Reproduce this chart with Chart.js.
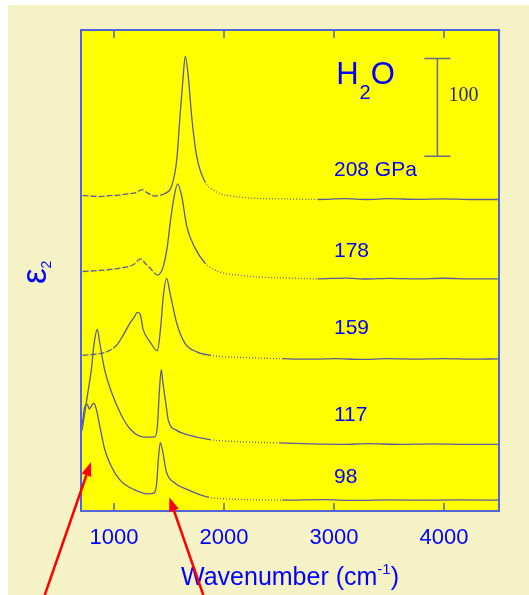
<!DOCTYPE html>
<html>
<head>
<meta charset="utf-8">
<script src="https://cdn.jsdelivr.net/npm/chart.js@4.4.0/dist/chart.umd.min.js"></script>
<style>
  html, body { margin: 0; padding: 0; background: #fff; }
  canvas { display: block; }
</style>
</head>
<body>
<canvas id="specChart" width="529" height="595"></canvas>
<script>
// x ticks (cm-1)
const xTicks = [1000, 2000, 3000, 4000];

// pressure of each spectrum, top to bottom
const pressures = ["208 GPa", "178", "159", "117", "98"];
// vertical offset of each spectrum (eps2 units)
const offsets = [318, 237, 155, 68, 11];
// where the labels sit (eps2 units, incl. offset)
const labelY = [348, 265, 187, 98, 35];

// spectra: wavenumber and eps2 above the baseline
const wn208 = [715, 790, 873, 960, 1050, 1145, 1200, 1252, 1300, 1373, 1420, 1464, 1525, 1570, 1600, 1625, 1648, 1675, 1706, 1752, 1827, 1900, 1964, 2100, 2327, 2600, 2850, 3100, 3300, 3500, 3750, 4000, 4250, 4500];
const eps208 = [4, 3.5, 3, 4, 4.5, 6, 7, 10, 7, 3.5, 4.5, 6, 14, 40, 85, 120, 146, 126, 85, 44, 18, 10, 6, 3, 1, 0.5, 0, 0.8, 0, 0.8, 0.2, 0.6, 0, 0];

const wn178 = [715, 790, 873, 960, 1055, 1175, 1243, 1290, 1327, 1397, 1448, 1485, 1515, 1548, 1579, 1615, 1661, 1736, 1827, 1900, 1994, 2150, 2327, 2600, 2850, 3100, 3300, 3500, 3750, 4000, 4250, 4500];
const eps178 = [7.5, 8, 8.6, 9.5, 11, 14.4, 20.3, 15, 11, 3.8, 12.7, 33.3, 60.8, 84.8, 97, 84.8, 53.9, 31.6, 16.2, 10, 5.9, 3.5, 1.8, 0.8, 0, 0.8, -0.2, 0.5, 0, 0.6, 0, 0];

const wn159 = [715, 812, 934, 1025, 1085, 1145, 1185, 1212, 1236, 1266, 1327, 1394, 1425, 1448, 1479, 1509, 1570, 1645, 1752, 1873, 2000, 2200, 2530, 2800, 3000, 3250, 3500, 3750, 4000, 4250, 4500];
const eps159 = [4, 4.8, 7.5, 14.4, 24.7, 36.8, 43, 47.7, 46.4, 29.9, 17.8, 8.6, 33.3, 64.2, 82.5, 67.7, 36.8, 16.2, 7.5, 4, 2.5, 1.5, 0.5, 0, 0.6, -0.3, 0.5, 0, 0.5, 0, 0.3];

const wn117 = [709, 734, 764, 794, 818, 848, 870, 915, 975, 1066, 1157, 1279, 1370, 1394, 1415, 1430, 1445, 1475, 1494, 1570, 1690, 1873, 2100, 2500, 2800, 3100, 3300, 3600, 3900, 4200, 4500];
const eps117 = [14, 32, 54, 76, 102, 117.5, 104, 76, 54, 30, 14.4, 7.5, 7.7, 17.8, 59, 76.3, 62.6, 38.5, 24.5, 14.3, 9.2, 4.8, 3, 1.5, 0.5, 0, 0.8, 0, 0.5, 0, 0];

const wn98 = [709, 734, 757, 775, 788, 815, 839, 870, 915, 975, 1066, 1188, 1309, 1364, 1388, 1403, 1421, 1445, 1475, 1552, 1673, 1855, 2036, 2300, 2530, 2900, 3200, 3500, 3800, 4100, 4500];
const eps98 = [76, 95, 98, 93, 95, 99, 93, 76, 52, 34.6, 19.2, 10.6, 6.5, 7.2, 17.5, 41.5, 58.8, 48.5, 29.5, 17.5, 10.6, 3.1, 1.3, 0.5, 0, 0.6, -0.2, 0.4, 0, 0.4, 0];

// dotted part (diamond absorption) and dashed low-frequency part
const dotStart = [1827, 1827, 1873, 1873, 1855];
const dotEnd = [2850, 2850, 2530, 2500, 2530];
const dashEnd = [1420, 1397, 1025, 0, 0];

const wns = [wn208, wn178, wn159, wn117, wn98];
const epss = [eps208, eps178, eps159, eps117, eps98];

const lineColor = "#5a5a9e";
const frameColor = "#5264dc";
const textBlue = "#0000ff";

const datasets = wns.map((wn, i) => ({
  label: pressures[i],
  data: wn.map((w, k) => ({ x: w, y: epss[i][k] + offsets[i] })),
  borderColor: lineColor,
  borderWidth: 1.3,
  pointRadius: 0,
  cubicInterpolationMode: "monotone",
  fill: false,
  segment: {
    borderDash: c => {
      const x0 = c.p0.parsed.x;
      if (x0 >= dotStart[i] && x0 < dotEnd[i]) return [1, 2];
      if (x0 < dashEnd[i]) return [6, 2];
      return undefined;
    }
  }
}));

function arrow(ctx, x0, y0, x1, y1) {
  const ang = Math.atan2(y1 - y0, x1 - x0);
  const head = 14, half = 5;
  const bx = x1 - head * Math.cos(ang), by = y1 - head * Math.sin(ang);
  ctx.beginPath();
  ctx.moveTo(x0, y0);
  ctx.lineTo(bx, by);
  ctx.stroke();
  ctx.beginPath();
  ctx.moveTo(x1, y1);
  ctx.lineTo(bx + half * Math.sin(ang), by - half * Math.cos(ang));
  ctx.lineTo(bx - half * Math.sin(ang), by + half * Math.cos(ang));
  ctx.closePath();
  ctx.fill();
}

const decor = {
  id: "decor",
  beforeDraw(chart) {
    const { ctx, width, height } = chart;
    ctx.save();
    ctx.fillStyle = "#ffffff";
    ctx.fillRect(0, 0, width, height);
    ctx.fillStyle = "#f5f2c6";
    ctx.fillRect(8, 5, width - 8, height - 5);
    ctx.restore();
  },
  beforeDatasetsDraw(chart) {
    const { ctx, chartArea: a } = chart;
    ctx.save();
    ctx.fillStyle = "#ffff00";
    ctx.fillRect(a.left, a.top, a.right - a.left, a.bottom - a.top);
    ctx.restore();
  },
  afterDraw(chart) {
    const { ctx, chartArea: a, scales: { x, y } } = chart;
    ctx.save();

    // frame + inner ticks
    ctx.strokeStyle = frameColor;
    ctx.lineWidth = 2;
    ctx.strokeRect(a.left, a.top, a.right - a.left, a.bottom - a.top);
    ctx.lineWidth = 1.5;
    xTicks.forEach(v => {
      const px = x.getPixelForValue(v);
      ctx.beginPath();
      ctx.moveTo(px, a.bottom); ctx.lineTo(px, a.bottom - 8);
      ctx.moveTo(px, a.top); ctx.lineTo(px, a.top + 8);
      ctx.stroke();
    });

    // pressure labels
    ctx.fillStyle = textBlue;
    ctx.font = '21px "Liberation Sans"';
    ctx.textAlign = "left";
    ctx.textBaseline = "middle";
    pressures.forEach((t, i) => {
      ctx.fillText(t, x.getPixelForValue(3000), y.getPixelForValue(labelY[i]));
    });

    // H2O
    ctx.textBaseline = "alphabetic";
    let hx = x.getPixelForValue(3020), hy = y.getPixelForValue(436);
    ctx.font = '31px "Liberation Sans"';
    ctx.fillText("H", hx, hy);
    hx += ctx.measureText("H").width + 1;
    ctx.font = '20px "Liberation Sans"';
    ctx.fillText("2", hx, hy + 15);
    hx += ctx.measureText("2").width;
    ctx.font = '31px "Liberation Sans"';
    ctx.fillText("O", hx, hy);

    // 100-unit scale bar
    const sx = x.getPixelForValue(3940);
    const sy0 = y.getPixelForValue(362), sy1 = y.getPixelForValue(462);
    ctx.strokeStyle = "#6a6a88";
    ctx.lineWidth = 1.5;
    ctx.beginPath();
    ctx.moveTo(sx, sy0); ctx.lineTo(sx, sy1);
    ctx.moveTo(sx - 13, sy0); ctx.lineTo(sx + 13, sy0);
    ctx.moveTo(sx - 13, sy1); ctx.lineTo(sx + 13, sy1);
    ctx.stroke();
    ctx.fillStyle = "#2a2a80";
    ctx.font = '20px "Liberation Serif"';
    ctx.fillText("100", sx + 11, sy1 + 43);

    // x title with superscript
    ctx.fillStyle = textBlue;
    const big = '25px "Liberation Sans"', small = '15px "Liberation Sans"';
    ctx.font = big;
    const w1 = ctx.measureText("Wavenumber (cm").width;
    const w3 = ctx.measureText(")").width;
    ctx.font = small;
    const w2 = ctx.measureText("-1").width;
    let tx = (a.left + a.right) / 2 - (w1 + w2 + w3) / 2;
    const ty = 585;
    ctx.font = big;
    ctx.fillText("Wavenumber (cm", tx, ty);
    ctx.font = small;
    ctx.fillText("-1", tx + w1, ty - 11);
    ctx.font = big;
    ctx.fillText(")", tx + w1 + w2, ty);

    // y title: eps_2 rotated
    ctx.save();
    ctx.translate(46, 284);
    ctx.rotate(-Math.PI / 2);
    ctx.font = '35px "Liberation Sans"';
    ctx.fillText("\u03b5", 0, 0);
    const ew = ctx.measureText("\u03b5").width;
    ctx.font = '14px "Liberation Sans"';
    ctx.fillText("2", ew, 5);
    ctx.restore();

    // red arrows
    ctx.strokeStyle = "#ff0000";
    ctx.fillStyle = "#ff0000";
    ctx.lineWidth = 2.5;
    arrow(ctx, 43, 600, x.getPixelForValue(791), y.getPixelForValue(50));
    arrow(ctx, 205, 600, x.getPixelForValue(1503), y.getPixelForValue(14));

    ctx.restore();
  }
};

new Chart(document.getElementById("specChart"), {
  type: "line",
  data: { datasets },
  options: {
    responsive: false,
    animation: false,
    devicePixelRatio: 1,
    layout: { padding: { left: 81, right: 30, top: 30, bottom: 0 } },
    plugins: { legend: { display: false }, tooltip: { enabled: false } },
    scales: {
      x: {
        type: "linear",
        min: 700,
        max: 4500,
        afterBuildTicks: s => { s.ticks = xTicks.map(v => ({ value: v })); },
        afterFit: s => { s.height = 84; },
        grid: { display: false, drawTicks: false },
        border: { display: false },
        ticks: {
          color: textBlue,
          padding: 14,
          maxRotation: 0,
          callback: v => String(v),
          font: { family: "Liberation Sans", size: 22 }
        }
      },
      y: {
        type: "linear",
        min: 0,
        max: 491,
        display: false
      }
    }
  },
  plugins: [decor]
});
</script>
</body>
</html>
